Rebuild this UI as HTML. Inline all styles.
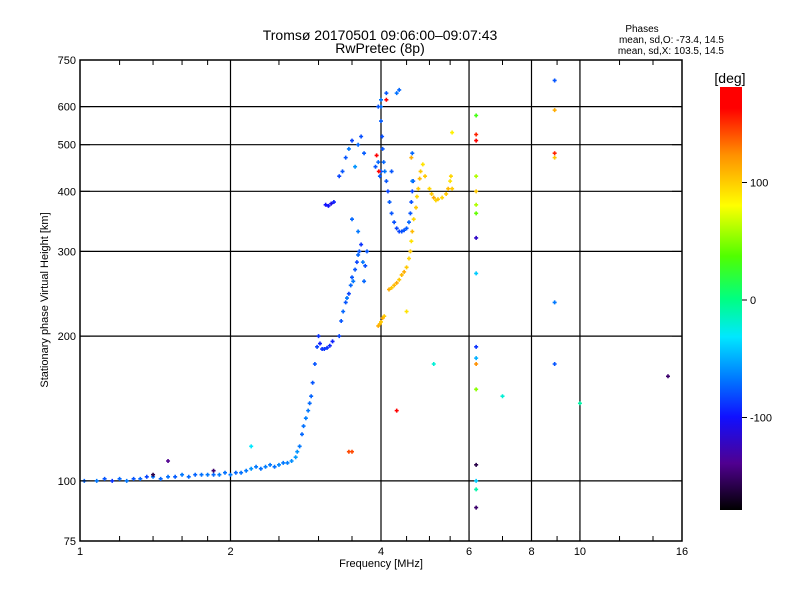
<!DOCTYPE html>
<html><head><meta charset="utf-8"><style>
body{margin:0;background:#fff;}
svg text{font-family:"Liberation Sans",sans-serif;fill:#000;}
</style></head><body>
<svg id="chart" width="800" height="600" viewBox="0 0 800 600" xmlns="http://www.w3.org/2000/svg">
<defs>
<linearGradient id="cbar" x1="0" y1="1" x2="0" y2="0">
<stop offset="0" stop-color="#000000"/><stop offset="0.11" stop-color="#500090"/>
<stop offset="0.22" stop-color="#1010ff"/><stop offset="0.31" stop-color="#0078ff"/>
<stop offset="0.41" stop-color="#00e8ff"/><stop offset="0.5" stop-color="#00ff80"/>
<stop offset="0.6" stop-color="#50ff00"/><stop offset="0.72" stop-color="#ffff00"/>
<stop offset="0.84" stop-color="#ff9000"/><stop offset="0.95" stop-color="#ff0000"/>
<stop offset="1" stop-color="#ff0000"/>
</linearGradient>
</defs>
<g id="grid"></g>
<g id="points"></g>
<rect x="80" y="60" width="602" height="481" fill="none" stroke="#000" stroke-width="1.5"/>
<g id="axes"></g>
<text x="380" y="40" font-size="14" text-anchor="middle">Tromsø 20170501 09:06:00–09:07:43</text>
<text x="380" y="53" font-size="14" text-anchor="middle">RwPretec (8p)</text>
<text x="642" y="32" font-size="10" text-anchor="middle">Phases</text>
<text x="724" y="43" font-size="10" text-anchor="end">mean, sd,O: -73.4, 14.5</text>
<text x="724" y="54" font-size="10" text-anchor="end">mean, sd,X: 103.5, 14.5</text>
<text x="381" y="567" font-size="11" text-anchor="middle">Frequency [MHz]</text>
<text transform="translate(48,300) rotate(-90)" font-size="11" text-anchor="middle">Stationary phase Virtual Height [km]</text>
<text x="730" y="83" font-size="14" text-anchor="middle">[deg]</text>
<rect x="720" y="87" width="22" height="423" fill="url(#cbar)"/>
<g id="cbticks"></g>
</svg>
<script>
const xTicks=[1,2,4,6,8,10,16];
const xGrid=[2,4,6,8,10];
const xMinor=[1.2,1.4,1.6,1.8,2.5,3,3.5,4.5,5,5.5,7,9,12,14];
const yTicks=[75,100,200,300,400,500,600,750];
const yGrid=[100,200,300,400,500,600];
const cbTicks=[100,0,-100];
// O-mode trace: frequency, height, phase
const oFreq=[1.02,1.08,1.12,1.16,1.2,1.24,1.28,1.32,1.36,1.4,1.45,1.5,1.55,1.6,1.65,1.7,1.75,1.8,1.85,1.9,1.95,2.0,2.05,2.1,2.15,2.2,2.25,2.3,2.35,2.4,2.45,2.5,2.55,2.6,2.65,2.7,2.72,2.75,2.78,2.8,2.83,2.86,2.88,2.9,2.92,2.95,2.98,3.0,3.02,3.05,3.08,3.12,3.16,3.2,3.1,3.14,3.18,3.22,3.3,3.33,3.36,3.4,3.42,3.45,3.48,3.5,3.52,3.55,3.58,3.6,3.62,3.65,3.68,3.7,3.72,3.75,3.4,3.45,3.5,3.55,3.6,3.65,3.7,3.3,3.35,3.5,3.6,3.9,3.95,4.0,4.0,4.0,4.02,4.03,4.05,4.07,4.1,4.13,4.16,4.2,4.25,4.3,4.35,4.4,4.45,4.5,4.55,4.58,4.6,4.62,4.64,3.98,4.0,4.3,4.35,4.1,4.2,4.62,4.62,3.95,4.1,3.92,3.96];
const oHeight=[100,100,101,100,101,100,101,101,102,102,101,102,102,103,102,103,103,103,103,103,104,103,104,104,105,106,107,106,107,108,107,108,109,109,110,112,115,118,125,130,135,140,145,150,160,175,190,200,193,188,188,189,191,195,375,373,377,380,200,215,225,235,240,245,255,265,260,275,285,295,300,310,285,260,280,300,470,490,510,450,500,520,480,430,440,350,330,450,460,620,600,560,520,490,460,440,420,400,380,360,345,335,330,330,332,335,345,360,380,400,420,430,440,640,650,640,440,480,420,600,620,475,440,400,420];
const oPhase=[-75,-70,-80,-90,-75,-70,-80,-75,-85,-70,-75,-72,-78,-70,-74,-76,-72,-70,-74,-68,-72,-70,-75,-72,-70,-60,-70,-72,-68,-70,-72,-65,-70,-68,-62,-58,-60,-70,-75,-72,-68,-70,-74,-76,-80,-80,-85,-90,-95,-90,-88,-90,-92,-95,-100,-100,-110,-95,-85,-80,-75,-80,-70,-85,-75,-80,-70,-80,-85,-75,-80,-90,-70,-75,-82,-80,-80,-70,-85,-60,-75,-82,-78,-85,-80,-75,-70,-80,-75,-70,-72,-78,-82,-80,-75,-70,-80,-85,-78,-80,-82,-85,-85,-82,-80,-78,-75,-80,-82,-85,-80,-78,-80,-72,-75,-80,-80,-75,-70,-80];
// X-mode trace
const xFreq=[3.95,3.98,4.0,4.03,4.06,4.15,4.2,4.25,4.3,4.35,4.4,4.45,4.5,4.55,4.58,4.6,4.62,4.65,4.7,4.72,4.75,4.78,4.8,4.85,4.9,5.0,5.05,5.1,5.15,5.2,5.3,5.4,5.45,5.5,5.52,5.55,4.6,4.5,5.55];
const xHeight=[210,212,214,218,220,250,252,255,258,262,268,272,278,290,300,315,330,350,370,390,405,425,440,455,430,405,395,388,383,385,388,395,405,420,430,405,470,225,530];
const xPhase=[110,105,100,110,100,110,100,105,110,100,105,110,100,95,100,90,105,95,100,95,100,105,100,90,100,95,100,110,95,100,95,100,105,90,95,100,110,90,85];
// scattered echoes
const sFreq=[6.2,6.2,6.2,6.2,6.2,6.2,6.2,6.2,6.2,6.2,6.2,6.2,6.2,6.2,6.2,6.2,6.2,8.9,8.9,8.9,8.9,8.9,8.9,15,7,10,4.3,5.1,3.5,3.45,1.5,1.4,1.85,2.2];
const sHeight=[575,525,510,430,400,375,360,320,270,190,180,175,155,108,100,96,88,680,590,480,470,235,175,165,150,145,140,175,115,115,110,103,105,118];
const sPhase=[30,150,170,60,100,60,40,-120,-40,-90,-50,120,50,-160,-40,-10,-150,-80,110,150,100,-70,-80,-150,-20,-10,160,-20,140,140,-140,-160,-150,-30];

const X0=80,X1=682,Y0=541,Y1=60;
const xS=f=>X0+(Math.log2(f)/4)*(X1-X0);
const yS=h=>Y0-Math.log10(h/75)/1*(Y0-Y1);
const NS="http://www.w3.org/2000/svg";
function mk(tag,attrs,parent){const e=document.createElementNS(NS,tag);for(const k in attrs)e.setAttribute(k,attrs[k]);parent.appendChild(e);return e;}
const stops=[[-180,[0,0,0]],[-140,[80,0,144]],[-100,[16,16,255]],[-70,[0,120,255]],[-30,[0,232,255]],[0,[0,255,128]],[35,[80,255,0]],[80,[255,255,0]],[120,[255,144,0]],[160,[255,0,0]],[180,[255,0,0]]];
function pc(p){for(let i=1;i<stops.length;i++){if(p<=stops[i][0]){const a=stops[i-1],b=stops[i];const t=(p-a[0])/(b[0]-a[0]);const c=a[1].map((v,j)=>Math.round(v+(b[1][j]-v)*t));return `rgb(${c})`;}}return 'rgb(255,0,0)';}
const grid=document.getElementById('grid'),axes=document.getElementById('axes'),pts=document.getElementById('points'),cbt=document.getElementById('cbticks');
xGrid.forEach(f=>{const l=mk('line',{x1:xS(f),x2:xS(f),y1:Y1,y2:Y0,stroke:'#000','stroke-width':1.2},grid);

});
yGrid.forEach(h=>{const l=mk('line',{x1:X0,x2:X1,y1:yS(h),y2:yS(h),stroke:'#000','stroke-width':1.2},grid);

});
xTicks.forEach(f=>{const t=mk('text',{x:xS(f),y:Y0+14,'font-size':11,'text-anchor':'middle'},axes);t.textContent=f;


mk('line',{x1:xS(f),x2:xS(f),y1:Y0,y2:Y0-10,stroke:'#000'},axes);mk('line',{x1:xS(f),x2:xS(f),y1:Y1,y2:Y1+10,stroke:'#000'},axes);});
xMinor.forEach(f=>{mk('line',{x1:xS(f),x2:xS(f),y1:Y0,y2:Y0-5,stroke:'#000'},axes);mk('line',{x1:xS(f),x2:xS(f),y1:Y1,y2:Y1+5,stroke:'#000'},axes);});
yTicks.forEach(h=>{const t=mk('text',{x:X0-4,y:yS(h)+4,'font-size':11,'text-anchor':'end'},axes);t.textContent=h;


mk('line',{x1:X0,x2:X0+10,y1:yS(h),y2:yS(h),stroke:'#000'},axes);mk('line',{x1:X1,x2:X1-10,y1:yS(h),y2:yS(h),stroke:'#000'},axes);});
function plus(f,h,p){const g=mk('path',{d:`M${xS(f)-2},${yS(h)}h4M${xS(f)},${yS(h)-2}v4`,stroke:pc(p),'stroke-width':1.6,fill:'none'},pts);

}
oFreq.forEach((f,i)=>plus(f,oHeight[i],oPhase[i]));
xFreq.forEach((f,i)=>plus(f,xHeight[i],xPhase[i]));
sFreq.forEach((f,i)=>plus(f,sHeight[i],sPhase[i]));
const cy=v=>300-v*(510-87)/360;
cbTicks.forEach(v=>{mk('line',{x1:742,x2:747,y1:cy(v),y2:cy(v),stroke:'#000'},cbt);const t=mk('text',{x:750,y:cy(v)+4,'font-size':11},cbt);t.textContent=v;

});
</script>
</body></html>
